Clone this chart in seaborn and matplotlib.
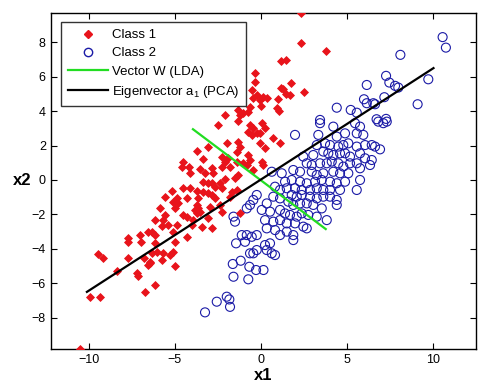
import matplotlib
matplotlib.use("Agg")
import matplotlib.pyplot as plt
from matplotlib.lines import Line2D
import numpy as np
import pandas as pd
import seaborn as sns

# ---------------------------------------------------------------------------
# Data
# ---------------------------------------------------------------------------
class1_x = [
    2.32, 2.32, 3.75, 1.16, 1.45, 1.74, 1.16, 1.28, 2.47, 1.45, 1.68, 0.14, 0.33, 1.0, 0.0, 0.91, 1.06,
    -0.35, -0.35, -0.54, -0.25, -0.45, -0.06, -2.09, -1.22, -1.03, -1.32, -0.64, -0.74,
    -2.47, -1.32, -0.64, -0.45, -0.74, -0.54, -0.25, -1.99, -1.32, -1.22, -1.41, -3.73, -3.06,
    -0.74, -0.64, -0.83, -2.28, -1.9, -2.09, -2.28, -1.8, -1.41, -1.03, -3.34, -4.5, -4.6, -4.2,
    -2.86, -2.77, -3.54, -3.25, -4.12, -2.09, -1.32, -1.51, -0.45, -3.34, -3.06, -2.86, -2.67,
    -2.38, -2.28, -5.18, -4.5, -4.12, -3.73, -3.34, -3.06, -2.86, -2.67, -1.7, -1.41, -1.8,
    -5.57, -5.08, -4.89, -4.79, -4.99, -4.31, -3.63, -3.73, -2.96, -2.38, -2.28, -3.83, -3.63,
    -3.54, -3.73, -5.86, -5.57, -5.66, -4.5, -3.06, -3.92, -4.02, -4.31, -6.14, -5.76, -5.37,
    -4.89, -3.44, -2.86, -6.34, -6.14, -5.08, -4.31, -1.22,
    0.04, 0.23, -0.06, 0.71, 1.1, 0.23, 0.04, 0.13, -0.06,
    -6.14, -6.43, -6.34, -5.76, -5.66, -5.28, -5.08, -4.99, -6.05, -6.14, -4.99,
    -10.49, -9.91, -9.33, -9.43, -9.18, -8.37, -7.73, -6.96, -7.73, -7.21, -7.11, -6.77, -6.53,
    -6.43, -6.72, -6.53, -7.01, -7.69,
]
class1_y = [
    9.7, 7.98, 7.52, 6.92, 6.96, 5.66, 5.37, 5.27, 5.13, 5.02, 4.94, 4.84, 4.79, 4.69, 4.3, 4.2, 4.0,
    6.24, 5.72, 5.23, 4.94, 4.75, 4.65, 3.78, 3.78, 3.88, 4.07, 4.26, 3.97,
    3.2, 3.43, 3.2, 3.0, 2.81, 2.62, 2.72, 2.17, 2.23, 1.94, 1.65, 1.7, 1.94,
    1.45, 1.16, 0.87, 1.36, 1.26, 1.07, 0.78, 0.78, 1.07, 1.0, 1.2, 1.07, 0.78, 0.78,
    0.68, 0.39, 0.62, 0.39, 0.39, 0.04, 0.29, 0.1, 0.58, -0.1, -0.19, -0.19, -0.39,
    -0.19, -0.48, -0.64, -0.48, -0.48, -0.62, -0.68, -0.77, -0.87, -1.07, -0.68, -0.58, -0.97,
    -0.97, -1.26, -1.07, -1.36, -1.65, -1.07, -1.07, -1.45, -1.55, -1.45, -1.84, -1.74, -1.65,
    -1.84, -1.94, -1.65, -2.03, -2.33, -2.03, -2.23, -2.33, -2.62, -2.13, -2.33, -2.67, -2.62,
    -2.62, -2.71, -2.81, -3.0, -3.2, -3.0, -3.3, -1.9,
    3.3, 3.0, 2.71, 2.42, 2.13, 1.84, 1.07, 0.87, 2.13,
    -6.1, -4.84, -4.26, -4.65, -4.26, -4.36, -4.17, -5.0, -4.17, -3.68, -3.59,
    -9.84, -6.78, -6.78, -4.3, -4.52, -5.27, -3.59, -3.59, -4.52, -5.43, -5.56, -4.52, -4.94,
    -4.75, -6.53, -3.0, -3.2, -3.39,
]

class2_x = [
    4.39, 5.2, 5.55, 6.13, 5.97, 6.13, 3.42,
    10.53, 10.72, 8.08, 7.25, 7.44, 7.77, 7.96, 9.7, 7.15, 9.08, 6.51, 6.61, 7.25, 6.7,
    7.29, 7.09, 6.8, 6.42, 6.61, 6.9, 6.42, 6.32,
    3.42, 4.19, 1.97, 3.32, 4.39, 4.87, 5.45, 5.74, 5.55, 5.93, 3.71, 4.0, 4.48, 4.77, 5.06,
    5.55, 6.03, 3.23, 3.61, 3.9, 4.19, 4.58, 4.87, 5.16, 3.03, 2.45, 5.74, 6.03, 2.65, 2.94,
    3.42, 3.81, 4.1, 4.48, 4.77, 5.16, 5.55, 5.74, 1.87, 2.26, 0.62, 1.2, 2.94, 3.23, 3.61,
    4.19, 4.58, 5.06, 5.74, 1.39, 1.78, 2.26, 2.65, 3.13, 3.52, 4.0, 4.39, 4.87, 5.55, 0.81,
    1.1, 1.49, 1.97, 2.36, 2.84, 3.23, 3.61, 4.0, 4.58, 0.71, 1.1, 1.78, 2.07, 2.36, 2.84,
    3.23, 3.61, 4.0, 4.39, 0.33, 1.58, 1.87, 2.26, 2.65, 3.03, 3.52, 4.39, 0.04, 0.52, 1.1,
    1.39, 1.68, 2.07, 2.36, 2.74, 3.23, 0.23, 0.71, 1.1, 1.49, 1.97, 2.45, 3.81, 0.33, 0.81,
    1.1, 1.49, 1.87, 2.65,
    -0.25, -0.45, -0.64, -0.83, -1.6, -1.51, -1.12, -0.83, -0.54, -0.25,
    -3.25, -2.57, -1.99, -1.84, -1.8, -1.6, -1.64, -1.18, -1.45, -0.68, -0.64, -0.45, -0.29,
    -0.74, -0.25, -0.93,
    0.14, 0.62, 0.81, 0.33, 0.23, 0.52, 1.87,
]
class2_y = [
    4.2, 4.07, 3.91, 5.52, 4.69, 4.46, 3.49,
    8.3, 7.69, 7.27, 6.05, 5.66, 5.47, 5.37, 5.85, 4.81, 4.4, 4.46, 4.4, 3.55, 3.53,
    3.39, 3.3, 3.39, 2.03, 1.94, 1.78, 1.16, 0.87,
    3.3, 3.1, 2.62, 2.62, 2.52, 2.71, 3.3, 3.1, 2.71, 2.62, 2.13, 2.03, 1.94, 2.03, 2.13,
    1.94, 2.03, 2.03, 1.65, 1.55, 1.45, 1.55, 1.55, 1.36, 1.45, 1.36, 1.55, 1.26, 0.97, 0.87,
    0.97, 0.97, 1.07, 0.97, 0.78, 0.97, 0.97, 0.68, 0.58, 0.48, 0.48, 0.39, 0.48, 0.29, 0.39,
    0.48, 0.39, 0.39, 0.0, -0.1, 0.0, -0.1, -0.19, -0.1, 0.0, -0.1, -0.19, -0.1, -0.58, -0.39,
    -0.58, -0.48, -0.48, -0.58, -0.58, -0.48, -0.58, -0.58, -0.58, -0.97, -1.07, -0.87, -0.97, -0.87, -0.97,
    -1.07, -0.97, -0.97, -1.16, -1.36, -1.26, -1.45, -1.36, -1.36, -1.45, -1.65, -1.45, -1.74, -1.84, -1.74,
    -1.94, -2.03, -2.13, -1.94, -2.03, -2.13, -2.33, -2.42, -2.33, -2.52, -2.52, -2.71, -2.33, -2.81, -2.91,
    -3.2, -3.0, -3.2, -2.81,
    -0.87, -1.16, -1.45, -1.65, -2.13, -2.42, -3.2, -3.2, -3.3, -3.2,
    -7.69, -7.07, -6.78, -6.94, -7.37, -5.62, -4.88, -4.69, -3.68, -5.04, -4.26, -4.26, -5.23,
    -5.77, -4.07, -3.59,
    -5.23, -4.26, -4.36, -4.07, -3.78, -3.68, -3.49,
]

# direction lines (end points)
lda_x = [-3.95, 3.75]
lda_y = [2.95, -2.85]
pca_x = [-10.1, 10.0]
pca_y = [-6.5, 6.5]

plt.rcParams["font.family"] = ["Liberation Sans", "DejaVu Sans"]
plt.rcParams["mathtext.fontset"] = "custom"
plt.rcParams["mathtext.rm"] = "Liberation Sans"

fig = plt.figure(figsize=(5.04, 3.83), dpi=100)
ax = fig.add_axes([0.1006, 0.0896, 0.8433, 0.8764])

red = "#e8141b"
navy = "#1a1aa6"

df1 = pd.DataFrame({"x1": class1_x, "x2": class1_y})
df2 = pd.DataFrame({"x1": class2_x, "x2": class2_y})
sns.scatterplot(data=df1, x="x1", y="x2", ax=ax, marker="D", s=16,
                color=red, edgecolor=red, linewidth=0.6, zorder=3)
sns.scatterplot(data=df2, x="x1", y="x2", ax=ax, marker="o", s=42,
                facecolor="none", edgecolor=navy, linewidth=0.8, zorder=2)
ax.plot(lda_x, lda_y, color="#22dd22", lw=1.6, zorder=4)
ax.plot(pca_x, pca_y, color="black", lw=1.6, zorder=4)

ax.set_xlim(-12.2, 12.45)
ax.set_ylim(-9.8, 9.7)
ax.set_xticks([-10, -5, 0, 5, 10])
ax.set_yticks([-8, -6, -4, -2, 0, 2, 4, 6, 8])
ax.tick_params(direction="in", top=True, right=True, labelsize=9, length=4)
for sp in ax.spines.values():
    sp.set_linewidth(1.0)
ax.set_xlabel("x1", fontsize=12, fontweight="bold", labelpad=2)
ax.set_ylabel("x2", fontsize=12, fontweight="bold", rotation=0, labelpad=7, va="center")

handles = [
    Line2D([], [], ls="none", marker="D", ms=4, color=red),
    Line2D([], [], ls="none", marker="o", ms=6, mfc="none", mec=navy),
    Line2D([], [], color="#22dd22", lw=1.6),
    Line2D([], [], color="black", lw=1.6),
]
labels = ["Class 1", "Class 2", "Vector W (LDA)", "Eigenvector a$_1$ (PCA)"]
leg = ax.legend(handles, labels, loc="upper left", bbox_to_anchor=(0.025, 0.972),
                fontsize=9.5, frameon=True, fancybox=False, edgecolor="black",
                borderaxespad=0, handlelength=3.0, handletextpad=0.35,
                labelspacing=0.45, borderpad=0.5)
leg.get_frame().set_linewidth(1.0)

fig.savefig("out.png", dpi=100)
